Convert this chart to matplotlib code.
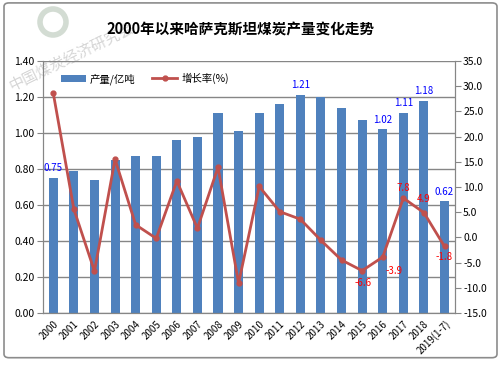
import numpy as np
import matplotlib.pyplot as plt
from matplotlib.patches import FancyBboxPatch, Ellipse

plt.rcParams['font.family'] = ['Noto Sans CJK SC', 'DejaVu Sans']

# data
years = ['2000', '2001', '2002', '2003', '2004', '2005', '2006', '2007', '2008', '2009',
         '2010', '2011', '2012', '2013', '2014', '2015', '2016', '2017', '2018', '2019(1-7)']
output = [0.75, 0.79, 0.74, 0.85, 0.87, 0.87, 0.96, 0.98, 1.11, 1.01,
          1.11, 1.16, 1.21, 1.20, 1.14, 1.07, 1.02, 1.11, 1.18, 0.62]
growth = [28.6, 5.6, -6.7, 15.5, 2.5, -0.2, 11.2, 1.8, 13.9, -9.1,
          10.1, 5.1, 3.6, -0.6, -4.5, -6.6, -3.9, 7.8, 4.9, -1.8]

bar_labels = {0: '0.75', 12: '1.21', 16: '1.02', 17: '1.11', 18: '1.18', 19: '0.62'}
# label text and offset (points) from the point
line_labels = {15: ('-6.6', 1, -9), 16: ('-3.9', 8, -10), 17: ('7.8', 0, 7.5),
               18: ('4.9', 0, 10), 19: ('-1.8', 0, -7.5)}

bar_color = '#4F81BD'
line_color = '#C0504D'
grid_color = '#868686'

fig = plt.figure(figsize=(5.01, 3.65), dpi=100)
ax = fig.add_axes([0.0858, 0.1425, 0.822, 0.6905])
ax2 = ax.twinx()

x = np.arange(len(years))
bars = ax.bar(x, output, width=0.44, color=bar_color, zorder=2, label='产量/亿吨')
ln, = ax2.plot(x, growth, color=line_color, lw=2, marker='o', ms=3.5,
               zorder=3, label='增长率(%)')

ax.set_xlim(-0.5, len(years) - 0.5)
ax.set_ylim(0, 1.4)
ax.set_yticks(np.arange(0, 1.41, 0.2))
ax.set_yticklabels([f'{v:.2f}' for v in np.arange(0, 1.41, 0.2)])
ax2.set_ylim(-15, 35)
ax2.set_yticks(np.arange(-15, 36, 5))
ax2.set_yticklabels([f'{v:.1f}' for v in np.arange(-15, 36, 5)])

ax.yaxis.grid(True, color=grid_color, lw=1)
ax.set_axisbelow(True)
ax.set_zorder(1)
ax2.set_zorder(2)
ax.patch.set_visible(False)

ax.set_xticks(x)
ax.set_xticklabels(years, rotation=45, ha='right', rotation_mode='anchor')
ax.tick_params(axis='x', length=0, labelsize=7, pad=4)
ax.tick_params(axis='y', labelsize=7.5, length=4, color=grid_color, pad=2)
ax2.tick_params(axis='y', labelsize=7.5, length=4, color=grid_color, pad=2)

for a in (ax, ax2):
    a.spines['top'].set_visible(False)
    for s in ('left', 'right', 'bottom'):
        a.spines[s].set_color(grid_color)

for i, t in bar_labels.items():
    ax.annotate(t, (x[i], output[i]), xytext=(0, 3.5), textcoords='offset points',
                ha='center', va='bottom', color='#0000FF', fontsize=7)
for i, (t, dx, dy) in line_labels.items():
    ax2.annotate(t, (x[i], growth[i]), xytext=(dx, dy), textcoords='offset points',
                 ha='center', va='center', color='#FF0000', fontsize=7)

ax.legend(handles=[bars, ln], loc='upper left', bbox_to_anchor=(0.02, 0.99),
          ncol=2, frameon=False, fontsize=7.5, handlelength=2.4, columnspacing=1.6,
          handletextpad=0.4)

fig.text(0.48, 0.918, '2000年以来哈萨克斯坦煤炭产量变化走势', ha='center', va='center',
         fontsize=10.5, fontweight='bold')

# watermark
fig.text(0.143, 0.844, '中国煤炭经济研究会', rotation=26, fontsize=11, color='#D6D6D6',
         ha='center', va='center', zorder=0, rotation_mode='anchor')
ring = Ellipse((53 / 501, 1 - 22 / 365), 26 / 501, 26 / 365, transform=fig.transFigure,
               fill=False, ec='#D3DCD3', lw=4, zorder=0)
fig.patches.append(ring)

border = FancyBboxPatch((0.008, 0.02), 0.984, 0.972, boxstyle='round,pad=0,rounding_size=0.01',
                        transform=fig.transFigure, fill=False, ec='#8C8C8C', lw=1.2)
fig.patches.append(border)

fig.savefig('out.png', dpi=100)
